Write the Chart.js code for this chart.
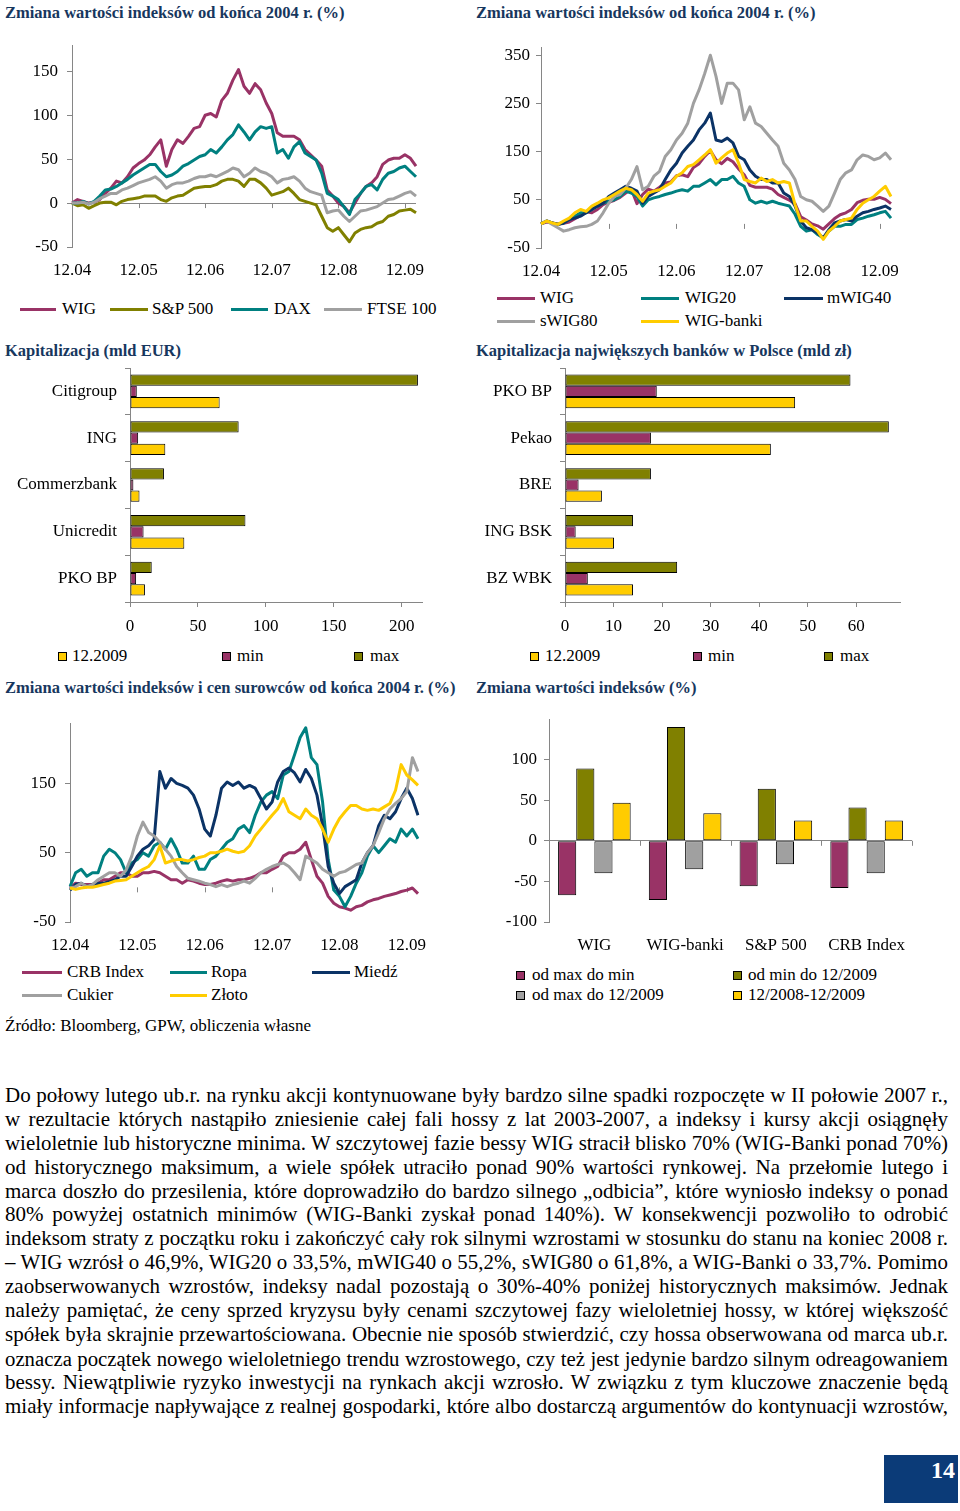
<!DOCTYPE html>
<html lang="pl">
<head>
<meta charset="utf-8">
<title>Zmiana wartości indeksów</title>
<script src="https://cdn.jsdelivr.net/npm/chart.js@4.4.1/dist/chart.umd.min.js"></script>
<style>
html,body{margin:0;padding:0;background:#fff;}
body{position:relative;width:960px;height:1511px;overflow:hidden;font-family:"Liberation Serif","Times New Roman",serif;color:#000;}
.t{position:absolute;white-space:nowrap;font-weight:bold;color:#17375E;font-size:16.5px;line-height:20px;}
canvas{position:absolute;}
.lg{position:absolute;white-space:nowrap;font-size:17px;line-height:20px;}
.ln{position:absolute;height:3px;}
.sq{position:absolute;width:7px;height:7px;border:1px solid #000;}
.src{position:absolute;left:5px;top:1016px;font-size:17px;line-height:20px;white-space:nowrap;}
.par{position:absolute;left:5px;top:1084px;width:943px;font-size:21px;}
.par div{text-align:justify;text-align-last:justify;white-space:nowrap;height:23.9px;line-height:23.9px;}
.pg{position:absolute;left:884px;top:1455px;width:74px;height:48px;background:#0B3B78;color:#fff;font-weight:bold;font-size:24px;text-align:right;box-sizing:border-box;padding-right:3px;line-height:30px;}
</style>
</head>
<body>
<div class="t" style="left:5px;top:3px">Zmiana wartości indeksów od końca 2004 r. (%)</div>
<div class="t" style="left:476px;top:3px">Zmiana wartości indeksów od końca 2004 r. (%)</div>
<div class="t" style="left:5px;top:341px">Kapitalizacja (mld EUR)</div>
<div class="t" style="left:476px;top:341px">Kapitalizacja największych banków w Polsce (mld zł)</div>
<div class="t" style="left:5px;top:678px">Zmiana wartości indeksów i cen surowców od końca 2004 r. (%)</div>
<div class="t" style="left:476px;top:678px">Zmiana wartości indeksów (%)</div>

<canvas id="cTL" width="430" height="245" style="left:0px;top:40px"></canvas>
<canvas id="cTR" width="430" height="245" style="left:470px;top:40px"></canvas>
<canvas id="cML" width="440" height="280" style="left:0px;top:360px"></canvas>
<canvas id="cMR" width="440" height="280" style="left:470px;top:360px"></canvas>
<canvas id="cBL" width="430" height="245" style="left:0px;top:715px"></canvas>
<canvas id="cBR" width="440" height="250" style="left:480px;top:710px"></canvas>

<div id="legends"></div>

<div class="src">Źródło: Bloomberg, GPW, obliczenia własne</div>

<div class="par">
<div>Do połowy lutego ub.r. na rynku akcji kontynuowane były bardzo silne spadki rozpoczęte w II połowie 2007 r.,</div>
<div>w rezultacie których nastąpiło zniesienie całej fali hossy z lat 2003-2007, a indeksy i kursy akcji osiągnęły</div>
<div>wieloletnie lub historyczne minima. W szczytowej fazie bessy WIG stracił blisko 70% (WIG-Banki ponad 70%)</div>
<div>od historycznego maksimum, a wiele spółek utraciło ponad 90% wartości rynkowej. Na przełomie lutego i</div>
<div>marca doszło do przesilenia, które doprowadziło do bardzo silnego „odbicia”, które wyniosło indeksy o ponad</div>
<div>80% powyżej ostatnich minimów (WIG-Banki zyskał ponad 140%). W konsekwencji pozwoliło to odrobić</div>
<div>indeksom straty z początku roku i zakończyć cały rok silnymi wzrostami w stosunku do stanu na koniec 2008 r.</div>
<div>– WIG wzrósł o 46,9%, WIG20 o 33,5%, mWIG40 o 55,2%, sWIG80 o 61,8%, a WIG-Banki o 33,7%. Pomimo</div>
<div>zaobserwowanych wzrostów, indeksy nadal pozostają o 30%-40% poniżej historycznych maksimów. Jednak</div>
<div>należy pamiętać, że ceny sprzed kryzysu były cenami szczytowej fazy wieloletniej hossy, w której większość</div>
<div>spółek była skrajnie przewartościowana. Obecnie nie sposób stwierdzić, czy hossa obserwowana od marca ub.r.</div>
<div>oznacza początek nowego wieloletniego trendu wzrostowego, czy też jest jedynie bardzo silnym odreagowaniem</div>
<div>bessy. Niewątpliwie ryzyko inwestycji na rynkach akcji wzrosło. W związku z tym kluczowe znaczenie będą</div>
<div>miały informacje napływające z realnej gospodarki, które albo dostarczą argumentów do kontynuacji wzrostów,</div>
</div>

<div class="pg">14</div>

<script>
// ---------- DATA ----------
// monthly points, 12.2004 ... 02.2010 (63 points), % change since end of 2004
const yearTicks = ['12.04','12.05','12.06','12.07','12.08','12.09'];

// Top-left: world indices
const wig    = [0,4,2,0,1,4,11,17,25,23,30,40,45,49,55,64,72,42,61,72,68,76,85,87,100,102,98,117,125,140,152,133,125,136,129,114,102,80,76,76,76,72,61,55,49,42,15,8,0,-4,-11,0,11,19,23,30,44,49,51,51,55,51,42];
const sp500  = [0,-3,-2,-6,-3,0,1,1,-2,2,4,5,6,8,8,8,4,2,6,8,9,13,17,18,19,19,21,25,27,27,25,19,27,27,23,17,9,11,13,17,11,4,2,0,-2,-15,-28,-32,-28,-36,-44,-34,-30,-28,-27,-23,-21,-15,-13,-9,-8,-7,-11];
const dax    = [0,0,2,-1,2,8,15,16,19,23,27,32,36,40,44,44,36,30,32,36,42,45,49,53,55,61,57,64,72,78,89,81,72,81,87,85,87,57,61,51,64,70,57,53,49,34,11,8,4,-4,-13,4,11,19,21,15,27,34,36,40,42,36,30];
const ftse   = [0,0,1,-1,1,5,8,11,11,15,17,20,23,25,27,30,25,17,21,23,23,25,28,30,30,32,30,33,36,40,38,30,34,40,36,34,30,23,27,28,30,25,17,13,11,9,-11,-9,-8,-15,-21,-15,-9,-8,-6,-4,0,4,5,8,11,13,8];

// Top-right: Polish indices (WIG as above)
const wig20    = [0,6,2,-1,2,9,16,23,23,30,37,43,47,50,57,68,64,57,37,50,54,57,61,64,68,71,68,78,78,85,92,81,92,92,99,85,78,50,43,47,43,47,43,40,37,20,-5,-15,-12,-22,-29,-15,-5,-5,-1,-1,9,12,16,19,23,26,12];
const mwig40   = [0,6,2,-1,2,9,12,16,23,30,37,43,57,64,71,78,74,68,43,57,64,71,92,112,126,147,161,174,195,209,230,174,171,178,168,140,133,112,99,92,92,85,85,64,57,37,6,-8,-12,-19,-29,-12,2,6,9,6,16,23,26,30,33,37,30];
const swig80   = [0,6,-1,-8,-15,-12,-8,-6,-5,-1,6,23,43,57,61,74,92,119,71,78,99,109,140,154,174,188,209,250,278,312,350,306,250,292,292,278,216,243,209,202,188,174,161,126,112,92,57,50,47,37,26,37,64,92,106,112,133,143,140,133,137,147,133];
const wigBanki = [0,6,2,-1,6,12,23,30,26,37,43,50,54,61,68,74,71,61,47,64,68,71,78,85,99,106,119,123,133,143,154,126,137,147,154,126,92,88,85,95,88,92,85,88,85,40,6,6,-5,-15,-32,-15,-5,6,9,12,30,43,50,57,68,78,57];

// Bottom-left: indices and commodities
const crb    = [-1,6,4,4,4,6,11,11,16,21,21,16,16,21,21,23,21,16,11,11,6,11,9,6,4,4,6,9,11,9,11,11,13,16,21,21,26,30,45,50,50,55,65,40,16,6,-13,-23,-28,-30,-33,-28,-26,-21,-18,-16,-13,-11,-9,-6,-4,-1,-9];
const ropa   = [1,21,26,16,21,21,45,55,50,40,21,35,40,50,45,60,65,55,70,55,35,35,45,26,26,40,45,55,65,70,84,89,79,104,123,133,138,128,162,167,191,216,230,187,177,123,40,-4,-13,-28,-13,6,21,45,60,50,60,70,65,84,74,84,70];
const miedz  = [-4,4,6,1,4,6,6,8,11,16,16,30,45,55,60,69,167,143,157,150,147,143,133,113,84,74,104,143,152,147,152,143,147,143,128,113,123,152,167,172,165,152,170,157,133,89,30,6,-9,1,6,11,35,50,60,89,104,99,109,128,143,128,104];
const cukier = [-1,1,6,1,4,11,16,21,21,16,25,45,74,94,79,74,65,55,45,30,21,13,11,9,6,4,1,4,1,4,6,9,6,13,21,26,30,33,35,30,21,11,45,40,35,26,21,16,21,23,28,33,35,50,60,79,99,113,121,128,138,187,167];
const zloto  = [-1,-3,-1,0,0,2,4,6,9,10,11,16,21,26,30,40,60,35,38,40,40,38,40,43,45,50,50,52,55,52,50,52,60,74,84,94,104,113,128,109,104,99,113,104,99,84,65,84,99,109,118,118,113,111,113,111,116,121,140,177,162,155,147];

// Middle-left: capitalisation (bn EUR)
const banksEU   = ['Citigroup','ING','Commerzbank','Unicredit','PKO BP'];
const euMax     = [212,80,25,85,16];
const euMin     = [5,6,2.5,10,4.5];
const eu2009    = [66,26,7,40,11];

// Middle-right: capitalisation of largest Polish banks (bn PLN)
const banksPL   = ['PKO BP','Pekao','BRE','ING BSK','BZ WBK'];
const plMax     = [58.8,66.7,17.7,14,23.1];
const plMin     = [18.9,17.7,2.8,2.2,4.7];
const pl2009    = [47.4,42.4,7.6,10.1,14];

// Bottom-right: index changes (%)
const idxCats     = ['WIG','WIG-banki','S&P 500','CRB Index'];
const maxToMin    = [-67,-73,-56,-58];
const minTo2009   = [89,140,64,41];
const maxTo2009   = [-40,-35,-29,-40];
const y2008to2009 = [47,34,25,25];

// axis tick values
const ticksTL = [-50,0,50,100,150];
const ticksTR = [-50,50,150,250,350];
const ticksBL = [-50,50,150];
const ticksBR = [-100,-50,0,50,100];
const ticksML = [0,50,100,150,200];
const ticksMR = [0,10,20,30,40,50,60];

// ---------- STYLE ----------
const COL = {maroon:'#993366', olive:'#808000', teal:'#008080', gray:'#A0A0A0', navy:'#0B3366', yellow:'#FFCC00'};
const AX = '#868686';
Chart.defaults.font.family = '"Liberation Serif","Times New Roman",serif';
Chart.defaults.font.size = 17;
Chart.defaults.color = '#000';

function noPad(s){ s.paddingTop = 0; s.paddingBottom = 0; s.paddingLeft = 0; s.paddingRight = 0; }

function zeroTicks(fn){
  return {id:'zt', beforeDatasetsDraw(chart){
    const xs = fn(chart); const y0 = chart.scales.y.getPixelForValue(0); const ctx = chart.ctx;
    ctx.save(); ctx.strokeStyle = AX; ctx.lineWidth = 1; ctx.beginPath();
    xs.forEach(x => { const px = Math.round(x) + 0.5; ctx.moveTo(px, y0); ctx.lineTo(px, y0 + 5); });
    ctx.stroke(); ctx.restore();
  }};
}

function lineChart(id, names, series, colors, o){
  const labels = series[0].map((_, i) => i);
  return new Chart(document.getElementById(id), {
    type:'line',
    data:{labels, datasets: series.map((d, i) => ({label:names[i], data:d, borderColor:colors[i], backgroundColor:colors[i],
      borderWidth:3, pointRadius:0, pointHoverRadius:0, tension:0, fill:false, borderJoinStyle:'round', order: series.length - 1 - i}))},
    options:{
      responsive:false, animation:false, devicePixelRatio:1, events:[],
      layout:{padding:o.pad},
      plugins:{legend:{display:false}, tooltip:{enabled:false}},
      scales:{
        x:{type:'category', offset:false, grid:{display:false, drawTicks:false}, border:{display:false},
           ticks:{autoSkip:false, maxRotation:0, minRotation:0, padding:o.xPad, callback:(v, i) => i % 12 === 0 ? yearTicks[i / 12] : ''},
           afterFit:s => { s.height = o.xH; noPad(s); }},
        y:{type:'linear', min:o.min, max:o.max,
           afterBuildTicks:s => { s.ticks = o.ticks.map(v => ({value:v})); },
           grid:{color:c => (c.tick && c.tick.value === 0) ? AX : 'rgba(0,0,0,0)', tickColor:AX, tickLength:5, lineWidth:1},
           border:{display:true, color:AX, width:1},
           ticks:{padding:o.yPad, callback:v => String(v)},
           afterFit:s => { s.width = o.yW; noPad(s); }}
      }
    },
    plugins:[zeroTicks(ch => [12,24,36,48,60].map(i => ch.scales.x.getPixelForValue(i)))]
  });
}

function hbar(id, cats, sets, o){
  return new Chart(document.getElementById(id), {
    type:'bar',
    data:{labels:cats, datasets: sets.map(s => ({label:s.name, data:s.data, backgroundColor:s.color, borderColor:'#000', borderWidth:1, borderSkipped:false, categoryPercentage:0.72, barPercentage:1}))},
    options:{
      indexAxis:'y', responsive:false, animation:false, devicePixelRatio:1, events:[],
      layout:{padding:o.pad},
      plugins:{legend:{display:false}, tooltip:{enabled:false}},
      scales:{
        x:{type:'linear', min:0, max:o.max, afterBuildTicks:s => { s.ticks = o.ticks.map(v => ({value:v})); },
           grid:{drawOnChartArea:false, color:AX, tickLength:5}, border:{color:AX}, ticks:{padding:o.xPad},
           afterFit:s => { s.height = o.xH; noPad(s); }},
        y:{type:'category', grid:{drawOnChartArea:false, offset:true, color:AX, tickLength:5}, border:{color:AX},
           ticks:{padding:o.yPad}, afterFit:s => { s.width = o.yW; noPad(s); }}
      }
    }
  });
}

// ---------- CHARTS ----------
lineChart('cTL', ['WIG','S&P 500','DAX','FTSE 100'], [wig, sp500, dax, ftse],
  [COL.maroon, COL.olive, COL.teal, COL.gray],
  {pad:{top:5, right:14, left:0, bottom:0}, min:-50, max:180, ticks:ticksTL, yW:72, yPad:9, xH:38, xPad:13});

lineChart('cTR', ['WIG','WIG20','mWIG40','sWIG80','WIG-banki'], [wig, wig20, mwig40, swig80, wigBanki],
  [COL.maroon, COL.teal, COL.navy, COL.gray, COL.yellow],
  {pad:{top:7, right:9, left:0, bottom:0}, min:-50, max:367, ticks:ticksTR, yW:71, yPad:6, xH:37, xPad:13});

lineChart('cBL', ['CRB Index','Ropa','Miedź','Cukier','Złoto'], [crb, ropa, miedz, cukier, zloto],
  [COL.maroon, COL.teal, COL.navy, COL.gray, COL.yellow],
  {pad:{top:8, right:12, left:0, bottom:0}, min:-50, max:237, ticks:ticksBL, yW:70, yPad:9, xH:38, xPad:13});

hbar('cML', banksEU, [
  {name:'max', data:euMax, color:COL.olive},
  {name:'min', data:euMin, color:COL.maroon},
  {name:'12.2009', data:eu2009, color:COL.yellow}],
  {pad:{top:8, right:18, left:0, bottom:0}, max:215, ticks:ticksML, yW:130, yPad:8, xH:38, xPad:9});

hbar('cMR', banksPL, [
  {name:'max', data:plMax, color:COL.olive},
  {name:'min', data:plMin, color:COL.maroon},
  {name:'12.2009', data:pl2009, color:COL.yellow}],
  {pad:{top:8, right:10, left:0, bottom:0}, max:69, ticks:ticksMR, yW:95, yPad:8, xH:38, xPad:9});

new Chart(document.getElementById('cBR'), {
  type:'bar',
  data:{labels:idxCats, datasets:[
    {label:'od max do min', data:maxToMin, backgroundColor:COL.maroon},
    {label:'od min do 12/2009', data:minTo2009, backgroundColor:COL.olive},
    {label:'od max do 12/2009', data:maxTo2009, backgroundColor:COL.gray},
    {label:'12/2008-12/2009', data:y2008to2009, backgroundColor:COL.yellow}
  ].map(d => Object.assign(d, {borderColor:'#000', borderWidth:1, borderSkipped:false, categoryPercentage:0.8, barPercentage:1}))},
  options:{
    responsive:false, animation:false, devicePixelRatio:1, events:[],
    layout:{padding:{top:9, right:8, left:0, bottom:0}},
    plugins:{legend:{display:false}, tooltip:{enabled:false}},
    scales:{
      x:{type:'category', grid:{display:false, drawTicks:false}, border:{display:false}, ticks:{padding:13}, afterFit:s => { s.height = 38; noPad(s); }},
      y:{type:'linear', min:-100, max:150, afterBuildTicks:s => { s.ticks = ticksBR.map(v => ({value:v})); },
         grid:{color:c => (c.tick && c.tick.value === 0) ? AX : 'rgba(0,0,0,0)', tickColor:AX, tickLength:5},
         border:{display:true, color:AX}, ticks:{padding:7, callback:v => String(v)}, afterFit:s => { s.width = 69; noPad(s); }}
    }
  },
  plugins:[zeroTicks(ch => { const x = ch.scales.x; const out = [];
    for (let i = 1; i < idxCats.length; i++) out.push((x.getPixelForValue(i - 1) + x.getPixelForValue(i)) / 2);
    out.push(ch.chartArea.right); return out; })]
});

// ---------- LEGENDS (HTML) ----------
const legendItems = [
  {k:'ln', x:20, y:309, w:36, c:COL.maroon, tx:62, t:'WIG'},
  {k:'ln', x:110, y:309, w:38, c:COL.olive, tx:152, t:'S&P 500'},
  {k:'ln', x:231, y:309, w:37, c:COL.teal, tx:274, t:'DAX'},
  {k:'ln', x:324, y:309, w:38, c:COL.gray, tx:367, t:'FTSE 100'},
  {k:'ln', x:497, y:298, w:38, c:COL.maroon, tx:540, t:'WIG'},
  {k:'ln', x:641, y:298, w:38, c:COL.teal, tx:685, t:'WIG20'},
  {k:'ln', x:784, y:298, w:39, c:COL.navy, tx:827, t:'mWIG40'},
  {k:'ln', x:497, y:321, w:38, c:COL.gray, tx:540, t:'sWIG80'},
  {k:'ln', x:641, y:321, w:38, c:COL.yellow, tx:685, t:'WIG-banki'},
  {k:'sq', x:58, y:656, c:COL.yellow, tx:72, t:'12.2009'},
  {k:'sq', x:222, y:656, c:COL.maroon, tx:237, t:'min'},
  {k:'sq', x:354, y:656, c:COL.olive, tx:370, t:'max'},
  {k:'sq', x:530, y:656, c:COL.yellow, tx:545, t:'12.2009'},
  {k:'sq', x:693, y:656, c:COL.maroon, tx:708, t:'min'},
  {k:'sq', x:824, y:656, c:COL.olive, tx:840, t:'max'},
  {k:'ln', x:22, y:972, w:40, c:COL.maroon, tx:67, t:'CRB Index'},
  {k:'ln', x:170, y:972, w:37, c:COL.teal, tx:211, t:'Ropa'},
  {k:'ln', x:312, y:972, w:38, c:COL.navy, tx:354, t:'Miedź'},
  {k:'ln', x:22, y:995, w:40, c:COL.gray, tx:67, t:'Cukier'},
  {k:'ln', x:170, y:995, w:37, c:COL.yellow, tx:211, t:'Złoto'},
  {k:'sq', x:516, y:975, c:COL.maroon, tx:532, t:'od max do min'},
  {k:'sq', x:733, y:975, c:COL.olive, tx:748, t:'od min do 12/2009'},
  {k:'sq', x:516, y:995, c:COL.gray, tx:532, t:'od max do 12/2009'},
  {k:'sq', x:733, y:995, c:COL.yellow, tx:748, t:'12/2008-12/2009'}
];
const lgRoot = document.getElementById('legends');
legendItems.forEach(it => {
  const m = document.createElement('div');
  if (it.k === 'ln') { m.className = 'ln'; m.style.left = it.x + 'px'; m.style.top = (it.y - 1.5) + 'px'; m.style.width = it.w + 'px'; }
  else { m.className = 'sq'; m.style.left = it.x + 'px'; m.style.top = (it.y - 4.5) + 'px'; }
  m.style.background = it.c;
  lgRoot.appendChild(m);
  const t = document.createElement('div');
  t.className = 'lg'; t.style.left = it.tx + 'px'; t.style.top = (it.y - 10) + 'px'; t.textContent = it.t;
  lgRoot.appendChild(t);
});

// fit each paragraph line into the column width
document.querySelectorAll('.par div').forEach(d => {
  const sp = document.createElement('span');
  sp.style.cssText = 'position:absolute;visibility:hidden;white-space:nowrap;font-family:inherit;font-size:21px;';
  sp.textContent = d.textContent;
  document.querySelector('.par').appendChild(sp);
  const w = sp.getBoundingClientRect().width;
  sp.remove();
  if (w > 940) d.style.fontSize = (21 * 940 / w) + 'px';
});
</script>
</body>
</html>
